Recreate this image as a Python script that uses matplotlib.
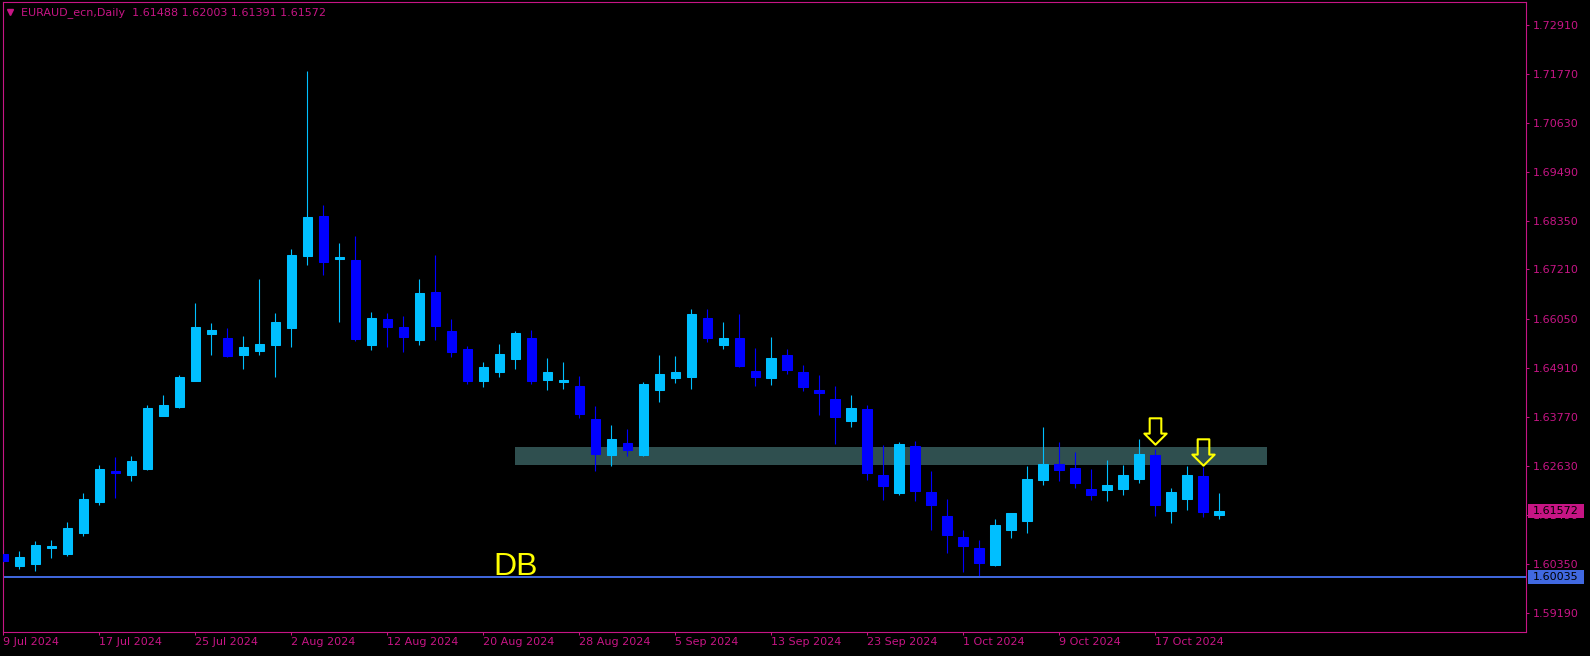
import numpy as np
import pandas as pd
import matplotlib
matplotlib.use('Agg')
import matplotlib.pyplot as plt
import matplotlib.transforms as mtransforms
from matplotlib.path import Path
from matplotlib.patches import Rectangle

# Chart header
symbol = 'EURAUD_ecn,Daily'

# Daily bars, 9 Jul 2024 .. 23 Oct 2024 (weekdays only)
dates = pd.bdate_range('2024-07-09', '2024-10-23')

opens = [1.60569, 1.60289, 1.60337, 1.60705, 1.60569, 1.61074, 1.61779, 1.62508, 1.62404, 1.62565,
         1.63799, 1.64007, 1.64616, 1.65706, 1.65618, 1.65217, 1.65313, 1.65450, 1.65850, 1.67525,
         1.68455, 1.67453, 1.67429, 1.65450, 1.66059, 1.65874, 1.65571, 1.66683, 1.65773, 1.65354,
         1.64607, 1.64825, 1.65128, 1.65610, 1.64639, 1.64592, 1.64491, 1.63721, 1.62889, 1.63161,
         1.62889, 1.64405, 1.64685, 1.64708, 1.66077, 1.65455, 1.65610, 1.64841, 1.64685, 1.65206,
         1.64817, 1.64397, 1.64188, 1.63675, 1.63955, 1.62415, 1.62003, 1.63092, 1.62019, 1.61459,
         1.60969, 1.60713, 1.60316, 1.61133, 1.61343, 1.62299, 1.62672, 1.62579, 1.62089, 1.62065,
         1.62089, 1.62322, 1.62882, 1.61576, 1.61856, 1.62392, 1.61488]
highs = [1.60809, 1.60633, 1.60866, 1.60890, 1.61330, 1.61988, 1.62637, 1.62845, 1.62869, 1.64055,
         1.64288, 1.64752, 1.66427, 1.65962, 1.65850, 1.65666, 1.66988, 1.66195, 1.67686, 1.71829,
         1.68711, 1.67830, 1.67990, 1.66219, 1.66195, 1.66131, 1.66986, 1.67546, 1.66053, 1.65424,
         1.65051, 1.65470, 1.65773, 1.65797, 1.65144, 1.65051, 1.64724, 1.64024, 1.63581, 1.63488,
         1.64584, 1.65214, 1.65190, 1.66287, 1.66287, 1.65983, 1.66170, 1.65377, 1.65634, 1.65354,
         1.64981, 1.64747, 1.64491, 1.64281, 1.64048, 1.63115, 1.63185, 1.63208, 1.62509, 1.61856,
         1.61133, 1.60899, 1.61389, 1.61540, 1.62625, 1.63535, 1.63185, 1.62952, 1.62555, 1.62765,
         1.62649, 1.63255, 1.63022, 1.62112, 1.62625, 1.62602, 1.62003]
lows = [1.60369, 1.60224, 1.60168, 1.60473, 1.60529, 1.60994, 1.61715, 1.61875, 1.62284, 1.62541,
        1.63790, 1.63967, 1.64610, 1.65217, 1.65177, 1.64897, 1.65217, 1.64704, 1.65410, 1.67317,
        1.67084, 1.65987, 1.65546, 1.65337, 1.65410, 1.65289, 1.65455, 1.65571, 1.65175, 1.64545,
        1.64475, 1.64708, 1.64895, 1.64545, 1.64405, 1.64429, 1.63752, 1.62516, 1.62633, 1.62866,
        1.62870, 1.64125, 1.64569, 1.64429, 1.65525, 1.65361, 1.64942, 1.64499, 1.64522, 1.64778,
        1.64382, 1.63822, 1.63146, 1.63543, 1.62299, 1.61840, 1.61957, 1.61809, 1.61133, 1.60596,
        1.60153, 1.60060, 1.60300, 1.60946, 1.61063, 1.62182, 1.62275, 1.62112, 1.61832, 1.61809,
        1.61949, 1.62229, 1.61459, 1.61296, 1.61599, 1.61436, 1.61391]
closes = [1.60409, 1.60497, 1.60777, 1.60753, 1.61170, 1.61867, 1.62565, 1.62460, 1.62733, 1.63967,
          1.64055, 1.64704, 1.65874, 1.65802, 1.65201, 1.65410, 1.65474, 1.65987, 1.67549, 1.68431,
          1.67381, 1.67509, 1.65594, 1.66083, 1.65874, 1.65642, 1.66660, 1.65898, 1.65291, 1.64607,
          1.64934, 1.65237, 1.65727, 1.64607, 1.64817, 1.64631, 1.63846, 1.62913, 1.63255, 1.63006,
          1.64537, 1.64771, 1.64817, 1.66170, 1.65618, 1.65610, 1.64965, 1.64708, 1.65144, 1.64872,
          1.64475, 1.64335, 1.63776, 1.63978, 1.62462, 1.62167, 1.63138, 1.62042, 1.61716, 1.61016,
          1.60767, 1.60363, 1.61249, 1.61529, 1.62322, 1.62672, 1.62532, 1.62229, 1.61949, 1.62182,
          1.62415, 1.62905, 1.61716, 1.62019, 1.62415, 1.61552, 1.61572]

# Price scale labels
y_ticks = [1.72910, 1.71770, 1.70630, 1.69490, 1.68350, 1.67210, 1.66050,
           1.64910, 1.63770, 1.62630, 1.61490, 1.60350, 1.59190]

# Objects on the chart
zone_bars = [32, 79]
zone_prices = [1.62649, 1.63068]
level_price = 1.60035
arrow_bars = [72, 75]
arrow_prices = [1.63442, 1.62952]
db_bar = 30.6
db_price = 1.60084

# Colours (MT4 style)
bg = 'black'
fg = '#C71585'
bull = '#00BFFF'
bear = '#0000FF'

fig = plt.figure(figsize=(15.9, 6.56), dpi=100, facecolor=bg)
ax = fig.add_axes([3 / 1590, 24 / 656, 1523 / 1590, 630 / 656], facecolor=bg)

o = np.array(opens)
h = np.array(highs)
l = np.array(lows)
c = np.array(closes)
x = np.arange(len(dates))
cols = np.where(c >= o, bull, bear)

# wicks and bodies
ax.vlines(x, l, h, colors=cols, linewidth=0.8, zorder=2)
ax.bar(x, np.abs(c - o), bottom=np.minimum(o, c), width=0.62, color=cols,
       edgecolor=cols, linewidth=0.75, zorder=3)

# resistance zone (drawn as background)
ax.add_patch(Rectangle((zone_bars[0], zone_prices[0]), zone_bars[1] - zone_bars[0],
                       zone_prices[1] - zone_prices[0], facecolor='#2F4F4F',
                       edgecolor='none', zorder=1))

# horizontal level
ax.axhline(level_price, color='#4169E1', linewidth=1.4, zorder=2)

# hollow down arrows
arrow_path = Path([(-0.22, 0.5), (0.22, 0.5), (0.22, -0.08), (0.423, -0.08),
                   (0, -0.5), (-0.423, -0.08), (-0.22, -0.08), (-0.22, 0.5)],
                  [Path.MOVETO] + [Path.LINETO] * 6 + [Path.CLOSEPOLY])
ax.plot(arrow_bars, arrow_prices, linestyle='none', marker=arrow_path, markersize=19,
        markerfacecolor='none', markeredgecolor='#FFFF00', markeredgewidth=1.5, zorder=6)

# DB label
ax.text(db_bar, db_price, 'DB', color='#FFFF00', fontsize=23, family='Liberation Sans',
        ha='left', va='baseline', zorder=6)

# axes limits
ax.set_xlim(-0.03, 95.16)
ax.set_ylim(1.58754, 1.73446)

# x ticks every 6 bars
xt = x[::6]
ax.set_xticks(xt)
ax.set_xticklabels([f'{d.day} {d.strftime("%b %Y")}' for d in dates[::6]])
for t in ax.get_xticklabels():
    t.set_ha('left')

ax.yaxis.tick_right()
ax.set_yticks(y_ticks)
ax.set_yticklabels([f'{v:.5f}' for v in y_ticks])

ax.tick_params(axis='both', colors=fg, labelsize=8, length=2.2, width=0.75)
ax.tick_params(axis='x', pad=1.5)
ax.tick_params(axis='y', pad=3)
for s in ax.spines.values():
    s.set_color(fg)
    s.set_linewidth(0.8)

# price labels on the scale
trans = mtransforms.blended_transform_factory(ax.transAxes, ax.transData)
box_h = 7 / 4288
for price, fc in [(closes[-1], fg), (level_price, '#4169E1')]:
    ax.add_patch(Rectangle((1.0013, price - box_h), 0.0368, 2 * box_h, transform=trans,
                           facecolor=fc, edgecolor='none', clip_on=False, zorder=5))
    ax.text(1.0046, price, f'{price:.5f}', transform=trans, color='black', fontsize=8,
            ha='left', va='center', clip_on=False, zorder=6)

# header
ax.plot([0.0049], [0.984], marker='v', markersize=5, color=fg, transform=ax.transAxes,
        clip_on=False)
header = f'{symbol}  {opens[-1]:.5f} {highs[-1]:.5f} {lows[-1]:.5f} {closes[-1]:.5f}'
ax.text(0.0118, 0.984, header, transform=ax.transAxes, color=fg, fontsize=8,
        ha='left', va='center')

fig.savefig('out.png', dpi=100, facecolor=bg)
